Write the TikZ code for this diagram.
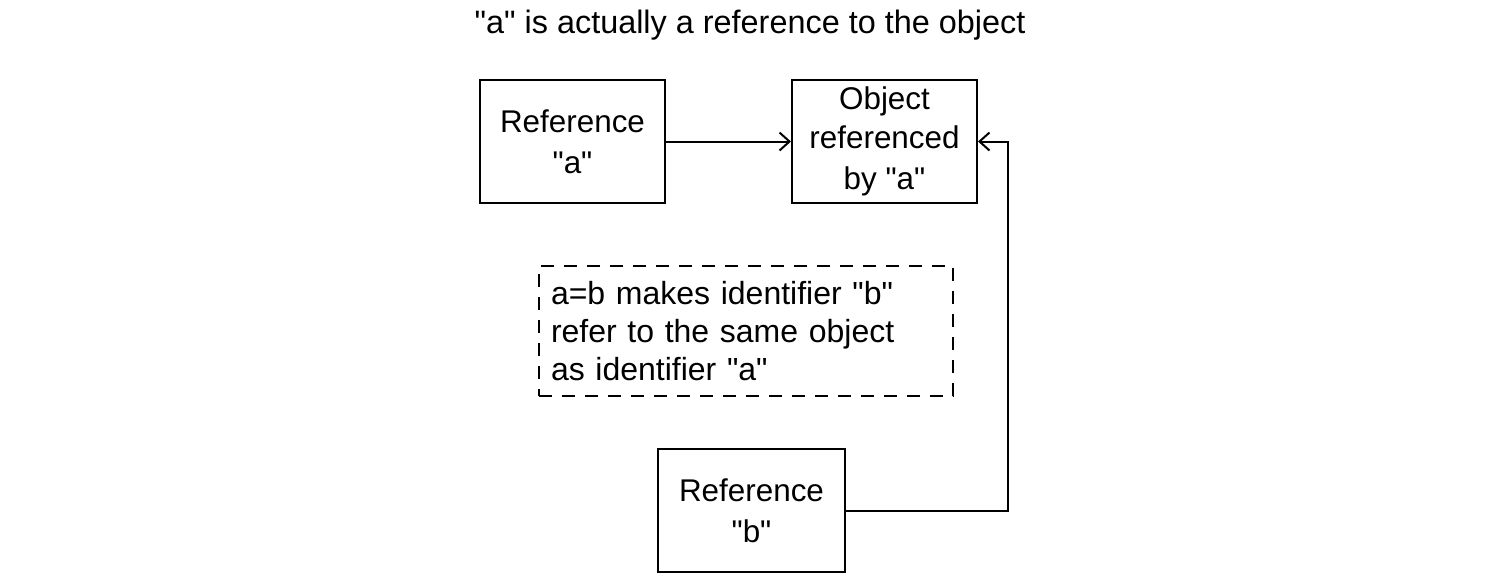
\documentclass[tikz,border=0pt]{standalone}
\usepackage{fontspec}
\setmainfont{Liberation Sans}
\usetikzlibrary{arrows.meta}
\newcommand{\qt}[1]{\textquotedbl#1\textquotedbl}
\begin{document}
\begin{tikzpicture}[x=0.5pt, y=-0.5pt,
    box/.style={draw, line width=1pt, align=center, inner sep=0pt,
        minimum width=92.5pt, minimum height=61.5pt,
        font=\fontsize{15.7}{20.5}\selectfont},
    note/.style={draw, dashed, dash pattern=on 6.5pt off 5pt, line width=0.8pt,
        align=left, inner xsep=6pt, text width=195pt, minimum height=65pt,
        font=\fontsize{16}{19}\selectfont},
    link/.style={line width=1pt, -{Straight Barb[length=5pt, width=9pt]}}]
    \useasboundingbox (0,0) rectangle (1499,586);

    \node (title) at (750,25) {\fontsize{16.2}{19}\selectfont \qt{a} is actually a reference to the object};

    \node[box] (refa) at (572.5,141.5) {Reference\\\qt{a}};
    \node[box] (obj) at (884.5,141.5) {\raisebox{-1pt}{Object}\\referenced\\by \qt{a}};
    \node[note] (rule) at (746,331) {a=b makes identifier \qt{b}\\refer to the same object\\as identifier \qt{a}};
    \node[box, minimum width=93.5pt] (refb) at (751.5,510.5) {Reference\\\qt{b}};

    \coordinate (bend) at (1008,0);
    \draw[link] (refa) -- (obj);
    \draw[link] (refb.east) -| (bend |- obj.east) -- (obj.east);
\end{tikzpicture}
\end{document}
